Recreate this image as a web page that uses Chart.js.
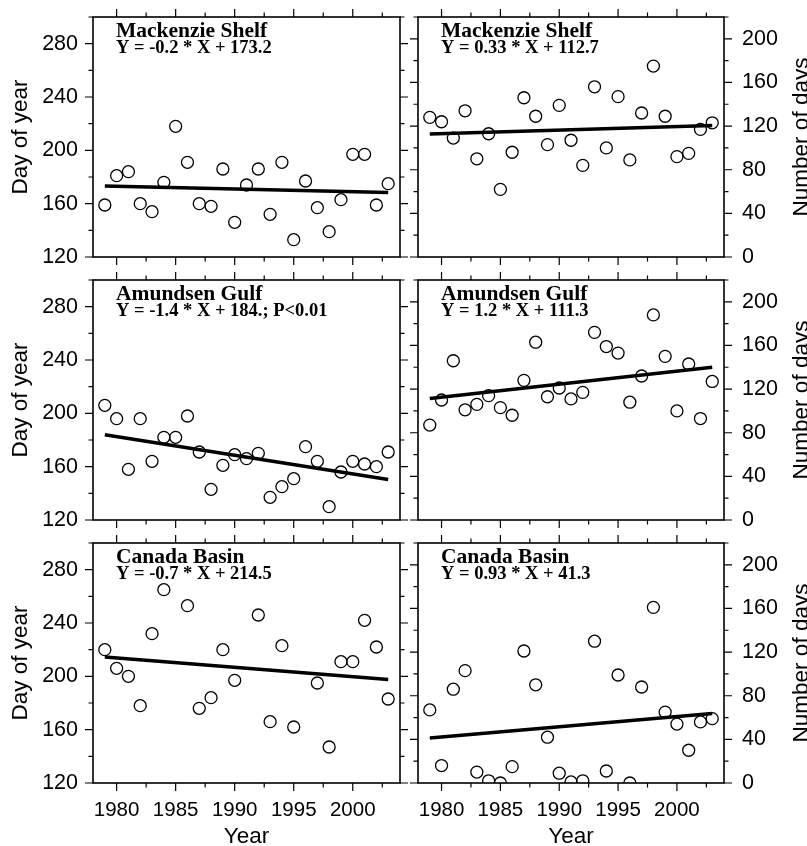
<!DOCTYPE html>
<html>
<head>
<meta charset="utf-8">
<script src="https://cdn.jsdelivr.net/npm/chart.js@4.4.1/dist/chart.umd.min.js"></script>
<style>
  html, body { margin: 0; padding: 0; background: #fff; overflow: hidden; }
  #wrap { position: relative; width: 807px; height: 846px; }
  canvas { position: absolute; }
</style>
</head>
<body>
<div id="wrap">
  <canvas id="c0"></canvas>
  <canvas id="c1"></canvas>
  <canvas id="c2"></canvas>
  <canvas id="c3"></canvas>
  <canvas id="c4"></canvas>
  <canvas id="c5"></canvas>
</div>
<script>
// years of the record
const years = [1979, 1980, 1981, 1982, 1983, 1984, 1985, 1986, 1987, 1988, 1989, 1990,
  1991, 1992, 1993, 1994, 1995, 1996, 1997, 1998, 1999, 2000, 2001, 2002, 2003];

// left column: day of year
const mackDay = [159, 181, 184, 160, 154, 176, 218, 191, 160, 158, 186, 146, 174, 186, 152, 191, 133, 177, 157, 139, 163, 197, 197, 159, 175];
const amunDay = [206, 196, 158, 196, 164, 182, 182, 198, 171, 143, 161, 169, 166, 170, 137, 145, 151, 175, 164, 130, 156, 164, 162, 160, 171];
const canDay = [220, 206, 200, 178, 232, 265, null, 253, 176, 184, 220, 197, null, 246, 166, 223, 162, null, 195, 147, 211, 211, 242, 222, 183];

// right column: number of days
const mackDays = [128, 124, 109, 134, 90, 113, 62, 96, 146, 129, 103, 139, 107, 84, 156, 100, 147, 89, 132, 175, 129, 92, 95, 117, 123];
const amunDays = [87, 110, 146, 101, 106, 114, 103, 96, 128, 163, 113, 121, 111, 117, 172, 159, 153, 108, 132, 188, 150, 100, 143, 93, 127];
const canDays = [67, 16, 86, 103, 10, 2, 0, 15, 121, 90, 42, 9, 1, 2, 130, 11, 99, 0, 88, 161, 65, 54, 30, 56, 59];

// regression lines, value at first and last year
const trendYears = [1979, 2003];
const mackDayTrend = [173.2, 168.4];
const amunDayTrend = [184.0, 150.4];
const canDayTrend = [214.5, 197.7];
const mackDaysTrend = [112.7, 120.6];
const amunDaysTrend = [111.3, 140.1];
const canDaysTrend = [41.3, 63.6];

const regions = ['Mackenzie Shelf', 'Amundsen Gulf', 'Canada Basin'];
const dayEquations = ['Y = -0.2 * X + 173.2', 'Y = -1.4 * X + 184.; P<0.01', 'Y = -0.7 * X + 214.5'];
const daysEquations = ['Y = 0.33 * X + 112.7', 'Y = 1.2 * X + 111.3', 'Y = 0.93 * X + 41.3'];

// ticks
const yearTicks = [1980, 1985, 1990, 1995, 2000];
const yearMinor = [1982.5, 1987.5, 1992.5, 1997.5, 2002.5];
const dayTicks = [120, 160, 200, 240, 280];
const dayMinor = [140, 180, 220, 260, 300];
const countTicks = [0, 40, 80, 120, 160, 200];
const countMinor = [20, 60, 100, 140, 180, 220];

const SANS = '"Liberation Sans", Arial, Helvetica, sans-serif';
const SERIF = '"Liberation Serif", "Times New Roman", serif';
Chart.defaults.font.family = SANS;
Chart.defaults.color = '#000';

const panelTops = [17, 280, 543];
const PANEL_H = 240;

// frame box + outward ticks on all four sides
const frameTicks = {
  id: 'frameTicks',
  afterDraw(chart, args, opts) {
    const {ctx, chartArea: {left, right, top, bottom}, scales: {x, y}} = chart;
    ctx.save();
    ctx.strokeStyle = '#000';
    ctx.lineWidth = 1.2;
    ctx.beginPath();
    x.ticks.forEach(t => {
      const px = x.getPixelForValue(t.value);
      const len = yearTicks.includes(t.value) ? 8 : 4.5;
      ctx.moveTo(px, bottom); ctx.lineTo(px, bottom + len);
      ctx.moveTo(px, top); ctx.lineTo(px, top - len);
    });
    y.ticks.forEach(t => {
      const py = y.getPixelForValue(t.value);
      const len = opts.yMajor.includes(t.value) ? 8 : 4.5;
      ctx.moveTo(left, py); ctx.lineTo(left - len, py);
      ctx.moveTo(right, py); ctx.lineTo(right + len, py);
    });
    ctx.stroke();
    ctx.lineWidth = 1.6;
    ctx.strokeRect(left, top, right - left, bottom - top);
    ctx.restore();
  }
};

// region name and regression equation
const panelText = {
  id: 'panelText',
  afterDraw(chart, args, opts) {
    const {ctx, chartArea} = chart;
    ctx.save();
    ctx.fillStyle = '#000';
    ctx.textAlign = 'left';
    ctx.textBaseline = 'alphabetic';
    ctx.font = 'bold 21.5px ' + SERIF;
    ctx.fillText(opts.region, chartArea.left + 23, chartArea.top + 20);
    ctx.font = 'bold 18.5px ' + SERIF;
    ctx.fillText(opts.equation, chartArea.left + 23, chartArea.top + 36);
    if (opts.rightTitle) {
      // right axis title reads bottom to top
      ctx.font = '22.5px ' + SANS;
      ctx.textAlign = 'center';
      ctx.textBaseline = 'middle';
      ctx.translate(chart.width - 5.5, (chartArea.top + chartArea.bottom) / 2);
      ctx.rotate(-Math.PI / 2);
      ctx.fillText(opts.rightTitle, 0, 0);
    }
    ctx.restore();
  }
};

function makePanel(id, row, col, values, trend, region, equation) {
  const isLeft = col === 0;
  const bottomExtra = row === 2 ? 69 : 12;
  const W = isLeft ? 410 : 397;
  const H = 12 + PANEL_H + bottomExtra;
  const cv = document.getElementById(id);
  cv.width = W;
  cv.height = H;
  cv.style.left = (isLeft ? 0 : 410) + 'px';
  cv.style.top = (panelTops[row] - 12) + 'px';

  const yMajor = isLeft ? dayTicks : countTicks;
  const yMinor = isLeft ? dayMinor : countMinor;

  const points = years.map((yr, i) => ({x: yr, y: values[i]})).filter(p => p.y !== null);
  const line = trendYears.map((yr, i) => ({x: yr, y: trend[i]}));

  return new Chart(cv, {
    type: 'scatter',
    data: {
      datasets: [{
        data: points,
        pointRadius: 6,
        pointBorderWidth: 1.3,
        pointBorderColor: '#000',
        pointBackgroundColor: 'rgba(0,0,0,0)',
        clip: 0,
        order: 0
      }, {
        data: line,
        showLine: true,
        borderColor: '#000',
        borderWidth: 3.5,
        pointRadius: 0,
        order: 1
      }]
    },
    options: {
      responsive: false,
      animation: false,
      devicePixelRatio: 1,
      layout: {padding: {top: 12, bottom: 0, left: isLeft ? 0 : 8, right: isLeft ? 10 : 0}},
      plugins: {
        legend: {display: false},
        tooltip: {enabled: false},
        frameTicks: {yMajor},
        panelText: {region, equation, rightTitle: isLeft ? null : 'Number of days'}
      },
      scales: {
        x: {
          type: 'linear',
          position: 'bottom',
          min: 1978,
          max: 2004,
          grid: {display: false, drawTicks: false},
          border: {display: false},
          afterBuildTicks: s => { s.ticks = [...yearTicks, ...yearMinor].sort((a, b) => a - b).map(v => ({value: v})); },
          ticks: {
            display: row === 2,
            autoSkip: false,
            maxRotation: 0,
            padding: 15,
            font: {size: 20.5},
            callback: v => yearTicks.includes(v) ? String(v) : ''
          },
          title: {display: row === 2, text: 'Year', font: {size: 22.5}, padding: {top: 0, bottom: 1.5}},
          afterFit: s => { s.height = bottomExtra; s.paddingLeft = 0; s.paddingRight = 0; }
        },
        y: {
          type: 'linear',
          position: isLeft ? 'left' : 'right',
          min: isLeft ? 120 : 0,
          max: isLeft ? 300 : 220,
          grid: {display: false, drawTicks: false},
          border: {display: false},
          afterBuildTicks: s => { s.ticks = [...yMajor, ...yMinor].sort((a, b) => a - b).map(v => ({value: v})); },
          ticks: {
            autoSkip: false,
            padding: isLeft ? 15 : 18,
            font: {size: 21.5},
            callback: v => yMajor.includes(v) ? String(v) : ''
          },
          title: {display: isLeft, text: 'Day of year', font: {size: 22.5}, padding: {top: 7, bottom: 0}},
          afterFit: s => { s.width = isLeft ? 93 : 83; s.paddingTop = 0; s.paddingBottom = 0; }
        }
      }
    },
    plugins: [frameTicks, panelText]
  });
}

makePanel('c0', 0, 0, mackDay, mackDayTrend, regions[0], dayEquations[0]);
makePanel('c1', 0, 1, mackDays, mackDaysTrend, regions[0], daysEquations[0]);
makePanel('c2', 1, 0, amunDay, amunDayTrend, regions[1], dayEquations[1]);
makePanel('c3', 1, 1, amunDays, amunDaysTrend, regions[1], daysEquations[1]);
makePanel('c4', 2, 0, canDay, canDayTrend, regions[2], dayEquations[2]);
makePanel('c5', 2, 1, canDays, canDaysTrend, regions[2], daysEquations[2]);
</script>
</body>
</html>
